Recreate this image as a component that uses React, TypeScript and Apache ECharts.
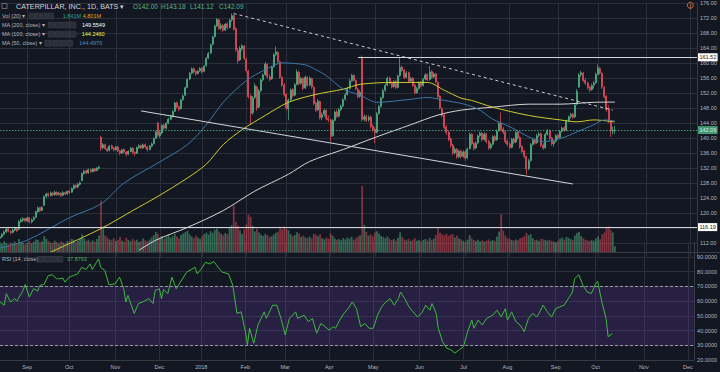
import React, { useEffect, useRef } from "react";
import * as echarts from "echarts";

// ---------- data ----------
const START = [2017, 7, 15]; // 2017-08-15 (month 0-based)
const TRADING_DAYS = 332;
const HOLIDAYS = ["2017-09-04", "2017-11-23", "2017-12-25", "2018-01-01", "2018-01-15", "2018-02-19", "2018-03-30", "2018-05-28", "2018-07-04", "2018-09-03", "2018-11-22", "2018-12-05"];
const MONTHS = ["Jan", "Feb", "Mar", "Apr", "May", "Jun", "Jul", "Aug", "Sep", "Oct", "Nov", "Dec"];

// [open, close, low, high]
const candles = [
  [113.2,113.6,112.8,114.1],[113.6,114.2,113.3,114.6],[114.3,114.9,114.0,115.3],[114.9,115.6,114.6,116.0],[115.7,115.1,114.8,116.1],
  [115.0,114.7,114.2,115.4],[114.8,115.4,114.5,115.8],[115.4,115.9,115.1,116.3],[116.0,115.2,114.9,116.2],[115.6,117.6,115.4,118.0],
  [117.7,118.1,117.3,118.6],[118.0,118.4,117.6,118.9],[118.5,117.8,117.5,118.7],[117.9,118.6,117.6,119.0],[118.7,117.6,117.2,118.9],
  [117.6,118.1,117.2,118.5],[118.2,118.7,117.9,119.1],[118.8,120.3,118.6,120.6],[120.3,121.3,120.0,121.7],[121.4,120.6,120.2,121.6],
  [120.7,121.4,120.4,121.8],[122.0,124.3,121.8,124.6],[124.3,125.0,124.0,125.4],[125.1,124.6,124.2,125.4],[124.6,125.3,124.4,125.7],
  [125.3,124.8,124.5,125.6],[124.8,125.5,124.6,125.9],[125.5,124.9,124.5,125.7],[124.9,125.2,124.6,125.6],[125.3,124.6,124.2,125.5],
  [124.7,125.4,124.4,125.8],[125.4,125.0,124.7,125.7],[125.1,125.7,124.8,126.0],[125.8,125.4,125.0,126.1],[125.5,126.5,125.3,126.8],
  [126.5,127.3,126.2,127.6],[127.4,126.8,126.5,127.6],[126.9,127.6,126.6,128.0],[127.6,128.0,127.3,128.4],[128.6,130.5,128.4,130.8],
  [130.5,131.1,130.2,131.5],[131.2,130.6,130.3,131.5],[130.7,131.5,130.4,131.8],[131.5,131.0,130.7,131.8],[131.0,131.7,130.8,132.0],
  [131.8,131.2,130.9,132.0],[131.3,131.9,131.1,132.2],[131.9,132.2,131.6,132.6],[140.2,137.3,136.5,140.6],[137.4,138.2,136.9,138.6],
  [138.2,137.1,136.8,138.5],[137.1,136.6,136.2,137.4],[136.7,137.8,136.4,138.1],[137.9,137.2,136.9,138.2],[137.2,136.8,136.4,137.6],
  [136.9,137.5,136.6,137.9],[137.6,136.5,136.2,137.8],[136.5,135.9,135.4,136.7],[136.0,136.8,135.7,137.1],[136.9,136.2,135.9,137.2],
  [136.2,135.6,135.1,136.5],[135.7,136.4,135.4,136.7],[136.4,137.2,136.2,137.6],[137.3,136.1,135.6,137.5],[136.1,135.8,135.1,136.4],
  [135.9,137.4,135.7,137.7],[137.4,137.9,137.1,138.3],[138.0,137.3,137.0,138.2],[137.3,138.1,137.1,138.5],[138.2,137.6,137.2,138.5],
  [137.6,136.9,136.4,137.8],[136.9,137.8,136.7,138.1],[137.8,138.4,137.5,138.8],[138.5,139.8,138.3,140.1],[139.9,141.6,139.7,141.9],
  [143.9,140.7,140.3,144.3],[140.6,141.4,140.0,141.8],[141.3,143.3,141.0,143.6],[143.4,142.6,142.2,143.8],[142.6,143.9,142.3,144.2],
  [144.0,145.0,143.7,145.4],[145.0,145.8,144.7,146.2],[145.8,147.0,145.5,147.4],[147.1,149.3,146.9,149.6],[149.4,148.2,147.8,149.7],
  [148.3,147.6,147.1,148.6],[147.8,150.1,147.6,150.4],[150.2,151.2,149.9,151.6],[151.4,153.4,151.2,153.7],[153.5,155.6,153.3,155.9],
  [155.7,157.2,155.4,157.6],[157.3,158.4,157.0,158.8],[158.5,157.6,157.2,158.8],[157.7,157.1,156.6,158.0],[157.2,157.8,156.9,158.2],
  [157.9,158.5,157.6,158.9],[158.6,157.6,157.2,158.9],[157.8,159.1,157.5,159.4],[159.3,161.2,159.0,161.6],[161.3,162.5,161.0,162.9],
  [162.7,164.8,162.4,165.2],[165.0,166.9,164.7,167.3],[167.0,169.8,166.8,170.2],[169.9,171.6,169.6,172.0],[171.5,169.2,168.8,171.8],
  [169.3,169.9,168.7,170.6],[170.0,168.7,168.2,170.4],[168.8,170.3,168.5,170.7],[170.4,169.4,168.9,170.9],[169.5,171.4,169.2,171.8],
  [171.5,172.6,171.0,173.2],[172.7,169.0,168.6,173.0],[169.2,163.5,163.0,169.5],[163.4,160.6,159.8,164.0],[160.8,163.9,160.5,164.5],
  [163.8,164.6,163.2,165.0],[164.5,161.2,160.8,164.8],[161.0,158.0,157.4,161.4],[157.8,151.0,150.5,158.2],[151.2,146.5,143.4,151.6],
  [146.8,150.6,146.2,151.2],[150.8,153.9,150.4,154.6],[153.6,148.0,147.2,154.0],[148.3,152.5,147.9,153.0],[152.6,155.4,152.3,155.9],
  [155.5,156.8,155.1,157.2],[156.9,159.7,156.6,160.2],[159.6,156.3,155.9,159.9],[156.3,155.6,155.1,157.0],[155.8,158.9,155.5,159.3],
  [159.0,162.2,158.7,162.6],[162.3,162.9,161.8,164.4],[162.8,160.4,159.9,163.2],[160.3,156.2,155.8,160.6],[156.1,154.1,153.6,156.5],
  [154.2,151.5,151.0,154.6],[151.6,147.9,147.3,151.9],[147.8,150.1,144.7,150.5],[150.2,152.8,149.8,153.2],[152.9,151.3,150.8,153.3],
  [151.4,154.2,151.1,154.6],[154.3,157.6,154.0,158.3],[157.5,154.5,154.0,157.9],[154.6,155.8,154.2,156.3],[155.9,153.2,152.7,156.2],
  [153.3,156.2,153.0,156.6],[156.1,154.0,153.6,156.5],[154.1,155.9,153.8,156.4],[155.8,153.6,153.1,156.1],[153.5,149.2,148.7,153.8],
  [149.3,147.4,146.9,149.8],[147.5,149.8,147.1,150.4],[149.7,145.4,144.9,150.0],[145.5,146.2,144.7,146.8],[146.3,147.3,145.8,147.8],
  [147.4,145.1,144.6,147.6],[145.2,144.9,144.2,146.0],[144.8,140.4,139.0,145.1],[140.6,144.6,140.3,145.0],[144.7,146.9,144.4,147.3],
  [147.0,145.7,145.3,147.6],[145.8,147.5,145.5,148.0],[147.6,148.4,147.1,148.9],[148.5,150.2,148.2,150.6],[150.3,151.5,150.0,152.0],
  [151.6,153.1,151.3,153.6],[153.2,155.2,152.9,155.7],[155.3,156.6,155.0,157.1],[156.7,155.4,155.0,157.0],[155.3,153.1,152.7,155.6],
  [153.0,151.0,150.5,153.4],[151.1,152.2,150.7,152.7],[161.3,144.9,144.3,162.0],[145.0,145.6,144.4,146.3],[145.7,144.7,144.2,146.1],
  [144.8,145.5,144.3,146.0],[145.6,143.0,142.5,145.9],[143.1,142.2,141.6,143.6],[142.3,141.4,138.6,142.8],[141.5,146.4,141.2,146.9],
  [146.5,148.3,146.2,148.8],[148.4,150.6,148.1,151.0],[150.7,152.6,150.4,153.1],[152.7,154.0,152.3,154.5],[154.1,155.9,153.8,156.4],
  [156.0,154.6,154.2,156.3],[154.7,153.6,153.2,155.1],[153.7,155.0,153.4,155.4],[155.1,153.4,153.0,155.4],[153.5,156.5,153.2,156.9],
  [156.6,158.8,156.3,161.4],[158.9,158.0,157.6,159.4],[158.1,156.1,155.7,158.4],[156.2,157.3,155.9,157.8],[157.4,155.1,154.7,157.7],
  [155.2,155.8,154.8,156.3],[155.9,154.0,153.6,156.2],[154.1,152.0,151.6,154.5],[152.1,153.1,151.8,153.6],[153.2,154.7,152.9,155.1],
  [154.8,153.9,153.5,155.2],[154.0,155.6,153.7,156.0],[155.7,156.8,155.4,157.3],[156.9,155.5,155.1,157.2],[155.6,157.6,155.3,159.2],
  [157.7,156.2,155.8,158.1],[156.3,157.0,155.9,157.5],[157.1,154.9,154.5,157.4],[154.8,151.0,150.5,155.1],[151.1,148.0,147.6,151.4],
  [147.8,146.0,145.5,148.2],[146.1,142.8,142.3,146.5],[142.9,141.4,140.8,143.4],[141.5,139.6,139.1,141.9],[139.7,138.0,137.4,140.1],
  [138.1,136.0,135.3,138.4],[136.1,136.9,135.6,137.5],[137.0,134.9,134.4,137.3],[135.0,136.4,134.6,136.8],[136.5,135.0,134.5,136.9],
  [135.1,136.2,134.7,136.7],[136.3,134.6,133.9,136.6],[134.7,137.0,134.4,137.4],[137.1,140.9,136.9,141.5],[141.0,138.4,138.0,141.3],
  [138.5,137.2,136.6,138.9],[137.3,138.6,137.0,139.1],[138.7,140.5,138.4,140.9],[140.6,141.2,140.1,141.7],[141.3,139.5,139.0,141.6],
  [139.6,141.0,139.3,141.5],[141.1,139.0,138.5,141.3],[139.1,137.3,136.8,139.5],[137.4,138.2,136.9,138.7],[138.3,140.3,138.0,140.7],
  [140.4,139.4,139.0,140.8],[139.5,141.8,139.2,142.3],[141.9,143.8,141.6,144.3],[144.0,142.3,141.8,146.8],[142.4,141.5,141.0,142.9],
  [141.6,139.0,138.5,141.9],[139.1,138.3,137.7,139.6],[138.4,137.4,136.9,138.9],[137.5,139.6,137.2,140.0],[139.7,138.8,138.3,140.1],
  [138.9,141.4,138.6,141.8],[141.5,140.0,139.5,141.9],[140.1,137.6,137.1,140.4],[137.7,136.4,135.9,138.0],[136.5,135.1,134.6,136.8],
  [135.0,131.7,130.2,135.3],[131.8,133.9,131.4,134.4],[134.0,138.2,133.7,138.6],[138.3,139.4,137.9,139.9],[139.5,138.6,138.2,139.9],
  [138.7,140.6,138.4,141.1],[140.7,141.0,140.2,141.6],[141.1,138.0,137.5,141.4],[138.1,137.3,136.8,138.6],[137.4,140.9,137.1,141.3],
  [141.0,141.8,140.6,142.4],[141.9,139.9,139.4,142.2],[140.0,138.4,137.9,140.3],[138.5,139.0,137.7,139.5],[139.1,140.6,138.8,141.0],
  [140.7,140.0,139.5,141.1],[140.1,141.7,139.8,142.1],[141.8,142.6,141.4,143.0],[142.7,142.0,141.6,143.1],[142.1,144.5,141.8,144.9],
  [144.6,145.6,144.2,146.0],[145.7,146.2,145.2,146.7],[146.3,145.5,145.0,146.7],[145.6,148.8,145.3,149.3],[149.0,152.4,148.7,153.0],
  [153.6,156.8,153.3,157.3],[156.9,157.4,156.3,157.9],[157.3,155.3,154.9,157.6],[155.4,154.6,154.1,155.9],[154.7,153.4,152.9,155.0],
  [153.5,152.8,152.2,153.9],[152.9,154.0,152.6,154.5],[154.1,154.6,153.2,155.2],[154.7,156.9,154.4,157.4],[157.0,158.6,156.7,159.6],
  [158.5,157.3,156.9,159.0],[157.2,153.6,153.1,157.5],[153.5,151.0,150.5,153.8],[151.1,147.5,147.0,151.4],[147.8,144.6,143.9,148.7],
  [144.5,141.9,140.3,144.8],[141.8,142.0,140.9,143.0],[142.00,142.09,141.12,143.18],
];

// volume, millions
const volumes = [
  3.1,2.6,3.4,2.9,2.4,3.0,2.7,3.3,2.8,4.1,3.2,2.9,2.5,
  3.0,3.6,2.8,3.3,4.0,3.8,3.1,3.4,5.0,4.2,3.5,3.0,2.9,3.6,3.2,2.7,3.4,3.0,2.8,3.5,
  3.4,4.2,3.9,3.1,3.6,4.4,5.6,4.3,3.5,3.9,3.2,3.7,3.3,4.1,5.2,
  16.3,
  8.1,5.2,4.6,4.0,3.7,4.4,3.5,3.9,4.8,3.6,3.3,4.5,3.8,3.4,4.1,3.6,3.9,3.2,3.5,4.3,3.7,3.4,3.9,4.6,5.3,6.4,5.8,
  4.5,5.1,4.2,4.8,5.5,4.6,5.0,5.8,4.9,4.3,5.4,5.9,6.3,6.8,5.6,4.9,4.4,5.2,4.6,4.1,5.0,5.7,6.2,5.5,6.6,
  6.1,7.0,7.4,6.5,5.8,5.3,6.0,5.6,7.9,8.5,14.8,9.6,8.4,6.9,5.7,7.2,8.8,11.9,11.2,8.3,6.5,7.4,6.2,5.5,5.1,
  5.8,5.4,4.7,5.0,5.6,6.1,6.4,7.6,7.2,8.1,7.4,6.9,5.7,5.0,5.4,6.3,5.9,4.8,5.2,4.6,4.4,4.9,4.3,5.8,5.5,
  5.0,5.6,4.4,4.0,4.6,4.2,5.9,5.2,4.3,3.9,4.1,3.7,4.4,4.0,4.6,4.2,4.8,3.9,4.5,4.9,5.3,21.0,8.6,6.4,5.2,
  5.6,5.0,6.2,6.6,5.9,5.1,4.7,4.4,4.9,4.2,3.8,4.1,3.6,4.5,6.3,4.8,4.0,3.7,4.2,3.5,3.9,4.4,3.6,3.9,3.4,
  3.8,4.1,3.6,4.5,3.9,4.2,5.4,7.7,6.1,5.6,5.3,5.8,5.1,5.5,5.7,4.6,5.2,4.3,4.0,3.6,3.2,3.9,5.4,4.4,3.8,
  3.5,3.9,3.4,3.7,3.3,3.6,4.0,3.5,3.8,3.4,4.9,6.5,12.0,6.8,5.2,4.4,4.1,3.8,3.6,4.0,3.7,4.3,4.6,5.0,6.1,
  5.3,5.7,4.4,3.7,3.9,3.5,4.2,4.0,3.8,3.6,3.9,3.5,3.3,3.0,3.6,4.2,4.6,3.9,4.8,4.5,4.1,3.8,5.2,6.0,6.4,
  5.1,4.4,3.9,3.7,3.5,3.8,3.6,4.3,4.9,4.0,5.6,6.2,7.9,8.1,7.0,6.2,1.84,
];

// moving averages: [dayIndex, value]
const ma50 = [[0,110.6],[13,112.7],[33,118.7],[48,122.4],[59,128],[75,133.3],[89,138.2],[98,143.5],[106,149.5],[117,155.3],[126,158.2],[134,160],[145,159.5],[150,158.2],[155,156.6],[163,153],[171,151.4],[179,149.5],[195,150.3],[203,150.8],[211,150],[219,149.2],[227,147.7],[234,145],[242,143],[251,140.3],[258,139],[266,139.8],[274,141.6],[282,143.5],[287,144.8],[292,144.5]];
const ma100 = [[24,109.5],[48,115.8],[63,120.6],[75,124.4],[89,129.3],[98,133],[106,138.2],[115,142.2],[126,146],[137,149.5],[150,151.6],[163,153],[171,154.3],[187,154.8],[203,154.8],[211,152.7],[219,150.6],[224,150],[234,148.2],[251,146],[266,144.8],[274,144.3],[282,144.8],[292,144.25]];
const ma200 = [[66,110],[74,112.7],[89,116.1],[106,120.6],[121,125.8],[137,130.3],[147,133.7],[163,136.9],[179,140.3],[195,143.5],[208,146.1],[219,147.4],[234,148.2],[251,149],[266,149],[282,149.5],[292,149.55]];

// RSI(14): [dayIndex, value]
const rsi = [[0,59.4],[2,57.2],[3,65.1],[5,59.4],[7,61.7],[8,59.9],[11,67.3],[12,71.3],[14,62.8],[16,68.4],[18,66.9],[19,70.7],[21,71.3],[23,77.4],[25,77.9],[27,75.2],[28,75.2],[30,75.6],[31,72.9],[33,76.3],[35,77.4],[37,78.5],[39,83],[41,81.5],[43,85.3],[44,81.5],[46,86.4],[47,88.7],[48,83],[50,80.8],[52,71.1],[55,71.8],[57,76.3],[59,68.4],[60,59.4],[61,63.9],[64,51.6],[66,58.3],[68,59.4],[71,61.7],[73,58.3],[74,67.3],[76,68.4],[77,61.7],[78,68],[80,65.1],[82,76.3],[84,68.4],[86,72.9],[89,79.7],[93,83],[94,78.5],[96,81.9],[98,86.4],[100,85.3],[102,86.9],[104,83],[106,79.7],[109,78.5],[111,70.7],[113,51.6],[115,52.7],[117,39.2],[118,30.2],[119,41.5],[121,31.3],[123,43.7],[126,52.7],[127,48.2],[130,57.2],[132,57.2],[134,48.2],[136,37],[138,48.2],[141,52.7],[142,48.2],[145,50.4],[147,46],[149,48.2],[151,38.1],[153,44.8],[155,42.6],[157,40.3],[159,42.6],[160,41.5],[162,47.1],[164,51.6],[166,54.9],[168,59.4],[170,54.9],[172,42.6],[174,44.8],[176,41.5],[178,41.5],[180,50.4],[182,56.1],[184,59.4],[186,61.7],[188,57.2],[190,61.7],[191,66.2],[193,61.7],[195,56.1],[197,52.7],[199,49.3],[201,51.6],[203,57.2],[205,53.8],[206,58.3],[208,51.6],[209,41.5],[211,32.5],[213,28],[215,26.9],[217,24.6],[219,26.9],[221,29.1],[223,39.2],[225,47.1],[226,41.5],[228,47.1],[230,43.7],[232,48.2],[235,50.4],[237,53.8],[239,49.3],[241,54.9],[242,47.1],[244,52.7],[246,46],[248,43.7],[250,39.2],[252,48.2],[254,51.6],[256,49.3],[257,51.6],[259,57.2],[261,52.7],[263,49.3],[265,54.9],[267,56.1],[269,57.2],[271,61.7],[273,66.2],[274,75.2],[276,77.9],[278,70.7],[280,66.2],[282,65.1],[284,71.8],[285,73.4],[287,59.4],[289,48.2],[290,35.8],[292,37.88]];

// drawings
const downTrend = [[111, 173.2], [291, 147.4]];
const lowerTrend = [[67, 147.2], [272, 127.7]];
const resistance = { from: 170, value: 161.52 };
const support = { from: 0, value: 116.19 };
const lastPrice = 142.09;

// ---------- style ----------
const BG = "#131722";
const GRID = "#2a2e39";
const AXIS_TEXT = "#b2b5be";
const UP = "#53b987";
const DOWN = "#eb4d5c";
const FONT = '"Liberation Sans", Arial, sans-serif';

function buildDates(): string[] {
  const out: string[] = [];
  const d = new Date(Date.UTC(START[0], START[1], START[2]));
  while (out.length < TRADING_DAYS) {
    const wd = d.getUTCDay();
    const s = d.toISOString().slice(0, 10);
    if (wd !== 0 && wd !== 6 && !HOLIDAYS.includes(s)) out.push(s);
    d.setUTCDate(d.getUTCDate() + 1);
  }
  return out;
}

export default function App() {
  const ref = useRef<HTMLDivElement>(null);
  useEffect(() => {
    if (!ref.current) return;
    const chart = echarts.init(ref.current, null, { renderer: "svg" });
    const dates = buildDates();
    const monthStart = new Set<number>();
    for (let i = 1; i < dates.length; i++) {
      if (dates[i].slice(0, 7) !== dates[i - 1].slice(0, 7)) monthStart.add(i);
    }
    const isMonthStart = (idx: number) => monthStart.has(idx);
    const lastIdx = dates.length - 1;

    const priceSplit = ["rgba(0,0,0,0)"].concat(Array(17).fill(GRID));
    const rsiSplit = ["rgba(0,0,0,0)", GRID, GRID, GRID, GRID, GRID, GRID, GRID, "rgba(0,0,0,0)"];

    const txt = (x: number, y: number, text: string, fill: string, size = 5.5) => ({
      type: "text", x, y, silent: true, z: 50,
      style: { text, fill, fontSize: size, fontFamily: FONT, verticalAlign: "middle", align: "left" },
    });
    const box = (x: number, y: number, w = 5.6) => ({
      type: "rect", silent: true, z: 50,
      shape: { x, y: y - 2.8, width: w, height: 5.6 },
      style: { fill: "#2a2e39", stroke: "#3f434e", lineWidth: 0.6 },
    });
    const boxes = (x0: number, y: number, step: number, w: number) =>
      [0, 1, 2, 3].map((k) => box(x0 + k * step, y, w));

    const priceLabel = (text: string, bg: string, color: string) => ({
      show: true, position: "end", distance: 1, formatter: text,
      backgroundColor: bg, color, fontSize: 5.5, fontFamily: FONT, padding: [1, 1.4],
    });

    const option: any = {
      animation: false,
      backgroundColor: BG,
      textStyle: { fontFamily: FONT },
      grid: [
        { left: 0, top: -0.6, width: 697, height: 258.4 },
        { left: 0, top: 126, width: 697, height: 126 },
        { left: 0, top: 242.3, width: 697, height: 117.6 },
      ],
      xAxis: [
        { type: "category", gridIndex: 0, data: dates, boundaryGap: false,
          axisLine: { show: false }, axisTick: { show: false }, axisLabel: { show: false },
          splitLine: { show: true, interval: isMonthStart, lineStyle: { color: GRID, width: 1 } } },
        { type: "category", gridIndex: 1, data: dates, boundaryGap: false, show: false },
        { type: "category", gridIndex: 2, data: dates, boundaryGap: false,
          axisLine: { show: true, lineStyle: { color: "#363a45" } }, axisTick: { show: false },
          axisLabel: { interval: isMonthStart, color: AXIS_TEXT, fontSize: 5.5, margin: 4,
            formatter: (v: string) => (v.slice(5, 7) === "01" ? v.slice(0, 4) : MONTHS[+v.slice(5, 7) - 1]) },
          splitLine: { show: true, interval: isMonthStart, lineStyle: { color: GRID, width: 1 } } },
      ],
      yAxis: [
        { type: "value", gridIndex: 0, position: "right", min: 108, max: 176, interval: 4,
          axisLine: { show: true, lineStyle: { color: "#363a45" } }, axisTick: { show: false },
          axisLabel: { color: AXIS_TEXT, fontSize: 5.5, margin: 3, showMinLabel: false,
            formatter: (v: number) => v.toFixed(2) },
          splitLine: { show: true, lineStyle: { color: priceSplit, width: 1 } } },
        { type: "value", gridIndex: 1, min: 0, max: 40, show: false, splitLine: { show: false } },
        { type: "value", gridIndex: 2, position: "right", min: 20, max: 100, interval: 10,
          axisLine: { show: true, lineStyle: { color: "#363a45" } }, axisTick: { show: false },
          axisLabel: { color: AXIS_TEXT, fontSize: 5.5, margin: 3, showMaxLabel: false,
            formatter: (v: number) => v.toFixed(4) },
          splitLine: { show: true, lineStyle: { color: rsiSplit, width: 1 } } },
      ],
      series: [
        {
          type: "bar", xAxisIndex: 1, yAxisIndex: 1, barWidth: 1.8, silent: true,
          data: volumes.map((v, i) => ({
            value: v,
            itemStyle: { color: candles[i][1] >= candles[i][0] ? "rgba(83,185,135,0.5)" : "rgba(235,77,92,0.5)" },
          })),
        },
        {
          type: "candlestick", xAxisIndex: 0, yAxisIndex: 0, barWidth: 1.5, silent: true,
          data: candles,
          itemStyle: { color: UP, color0: DOWN, borderColor: UP, borderColor0: DOWN, borderWidth: 0.7 },
          markLine: {
            silent: true, symbol: ["none", "none"], animation: false,
            data: [
              [{ coord: downTrend[0], lineStyle: { color: "#c9cbd1", type: [3, 3], width: 1 }, label: { show: false } }, { coord: downTrend[1] }],
              [{ coord: lowerTrend[0], lineStyle: { color: "#d1d4dc", type: "solid", width: 1 }, label: { show: false } }, { coord: lowerTrend[1] }],
              [{ coord: [resistance.from, resistance.value], lineStyle: { color: "#d1d4dc", type: "solid", width: 1 },
                 label: priceLabel(resistance.value.toFixed(2), "#ffffff", "#131722") }, { coord: [lastIdx, resistance.value] }],
              [{ coord: [support.from, support.value], lineStyle: { color: "#d1d4dc", type: "solid", width: 1 },
                 label: priceLabel(support.value.toFixed(2), "#ffffff", "#131722") }, { coord: [lastIdx, support.value] }],
              [{ coord: [0, lastPrice], lineStyle: { color: UP, type: [1.5, 1.5], width: 1, opacity: 0.8 },
                 label: priceLabel(lastPrice.toFixed(2), UP, "#ffffff") }, { coord: [lastIdx, lastPrice] }],
            ],
          },
        },
        { type: "line", xAxisIndex: 0, yAxisIndex: 0, data: ma200, symbol: "none", smooth: 0.3, silent: true,
          lineStyle: { color: "#d6d6d6", width: 1 } },
        { type: "line", xAxisIndex: 0, yAxisIndex: 0, data: ma100, symbol: "none", smooth: 0.3, silent: true,
          lineStyle: { color: "#cfcb2e", width: 1 } },
        { type: "line", xAxisIndex: 0, yAxisIndex: 0, data: ma50, symbol: "none", smooth: 0.3, silent: true,
          lineStyle: { color: "#3c78a5", width: 1 } },
        {
          type: "line", xAxisIndex: 2, yAxisIndex: 2, data: rsi, symbol: "none", silent: true,
          lineStyle: { color: "#3fb93f", width: 1 },
          markArea: { silent: true, itemStyle: { color: "rgba(120,70,200,0.2)" }, data: [[{ yAxis: 30 }, { yAxis: 70 }]] },
          markLine: { silent: true, symbol: ["none", "none"], label: { show: false },
            lineStyle: { color: "#9598a1", type: [3, 2], width: 1 }, data: [{ yAxis: 70 }, { yAxis: 30 }] },
        },
      ],
      graphic: {
        elements: [
          { type: "line", silent: true, z: 60, shape: { x1: 0, y1: 252.5, x2: 720, y2: 252.5 }, style: { stroke: "#363a45", lineWidth: 1 } },
          { type: "rect", silent: true, z: 50, shape: { x: 2, y: 3.5, width: 5, height: 5 }, style: { fill: "none", stroke: "#787b86", lineWidth: 0.8 } },
          txt(16, 6.5, "CATERPILLAR, INC., 1D, BATS \u25BE", "#d1d4dc", 7.2),
          txt(133, 6.5, "O142.00", UP, 6.5),
          txt(161, 6.5, "H143.18", UP, 6.5),
          txt(190, 6.5, "L141.12", UP, 6.5),
          txt(219, 6.5, "C142.09", UP, 6.5),
          txt(2, 16, "Vol (20) \u25BE", AXIS_TEXT),
          ...boxes(29.3, 16, 6.2, 5.4),
          txt(62.7, 16, "1.841M", "#26a69a"),
          txt(82.7, 16, "4.801M", "#ff9800"),
          txt(2, 25, "MA (200, close) \u25BE", AXIS_TEXT),
          ...boxes(48.3, 25, 7.2, 6),
          txt(82, 25, "149.5549", "#ffffff"),
          txt(2, 34.2, "MA (100, close) \u25BE", AXIS_TEXT),
          ...boxes(48.3, 34.2, 7.2, 6),
          txt(81.7, 34.2, "144.2460", "#f5f53a"),
          txt(2, 43.3, "MA (50, close) \u25BE", AXIS_TEXT),
          ...boxes(45, 43.3, 7.2, 6),
          txt(79.3, 43.3, "144.4976", "#4b8ec6"),
          txt(2, 259.3, "RSI (14, close) \u25BE", AXIS_TEXT),
          ...boxes(38, 259.3, 6.4, 5.6),
          txt(67, 259.3, "37.8793", "#4caf50"),
          { type: "circle", silent: true, z: 50, shape: { cx: 690.3, cy: 5.3, r: 3 }, style: { fill: "none", stroke: "#f0883e", lineWidth: 0.8 } },
          { type: "text", silent: true, z: 50, x: 690.3, y: 5.5, style: { text: "!", fill: "#f0883e", fontSize: 5, fontFamily: FONT, align: "center", verticalAlign: "middle", fontWeight: "bold" } },
        ],
      },
    };
    chart.setOption(option);
    return () => chart.dispose();
  }, []);
  return (
    <div
      ref={ref}
      style={{ position: "fixed", left: 0, top: 0, width: 720, height: 372, background: BG }}
    />
  );
}
